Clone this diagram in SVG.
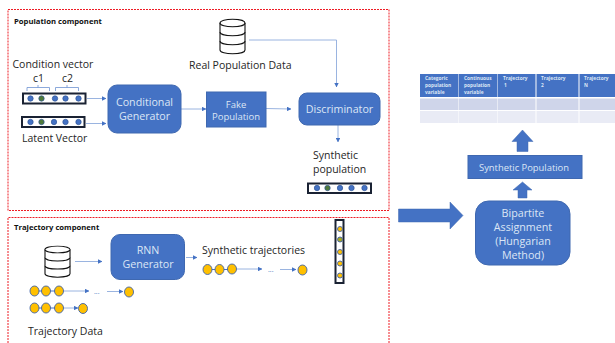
<svg xmlns="http://www.w3.org/2000/svg" width="615" height="343" viewBox="0 0 615 343">
<style>
text{font-family:"Open Sans","Liberation Sans",sans-serif;fill:#262626;font-size:10.5px}
.w{fill:#dce6f5;text-anchor:middle;font-size:10.700px}
.b{font-weight:700;font-size:7.700px;fill:#111}
.t{font-weight:700;font-size:4.800px;fill:#dce6f5}
.red{fill:none;stroke:#ee1c25;stroke-width:1;stroke-dasharray:2 1}
.box{fill:#4472c4;stroke:#3f68b0;stroke-width:1}
.vec{fill:#fff;stroke:#1a2233;stroke-width:2}
.bd{fill:#4472c4;stroke:#2f5597;stroke-width:.7}
.gd{fill:#4f7a3a;stroke:#2f5597;stroke-width:.7}
.yd{fill:#ffc000;stroke:#3f62a8;stroke-width:.9}
.con{fill:none;stroke:#8fabdc;stroke-width:.9}
.link{fill:none;stroke:#4472c4;stroke-width:1}
.brace{fill:none;stroke:#6f93d2;stroke-width:.8}
.db{fill:#fff;stroke:#111;stroke-width:1.1}
.bar{fill:#4472c4;stroke:#3f68b0;stroke-width:.5}
</style>
<defs>
<marker id="a" viewBox="0 0 6 6" refX="5.500" refY="3" markerWidth="4.500" markerHeight="4.500" orient="auto" markerUnits="userSpaceOnUse"><path d="M0 0L6 3L0 6Z" fill="#4472c4"/></marker>
<g id="dbi"><path class="db" d="M0 5C0 0 25 0 25 5V32C25 37 0 37 0 32Z"/><path class="db" d="M0 5C0 10 25 10 25 5M0 14C0 19 25 19 25 14M0 23C0 28 25 28 25 23"/></g>
</defs>
<g id="population-frame"><rect class="red" x="8" y="9.500" width="381" height="201"/><text class="b" x="14" y="23.500">Population component</text></g>
<g id="trajectory-frame"><path class="red" d="M8 346V217.500H389V346"/><text class="b" x="14" y="229.500">Trajectory component</text></g>
<g id="connectors">
<path class="con" marker-end="url(#a)" d="M87 98.500H106"/>
<path class="con" marker-end="url(#a)" d="M86 123.500H106"/>
<path class="con" marker-end="url(#a)" d="M181 109H206"/>
<path class="con" marker-end="url(#a)" d="M266 108.500L291 109"/>
<path class="con" marker-end="url(#a)" d="M249 40H336.500V87"/>
<path class="con" marker-end="url(#a)" d="M338 125V142"/>
<path class="con" marker-end="url(#a)" d="M75 261.500H102"/>
<path class="con" marker-end="url(#a)" d="M186 257.500H197"/>
<path class="con" marker-end="url(#a)" d="M63 291H89"/>
<path class="con" marker-end="url(#a)" d="M107 291.500H123"/>
<path class="con" marker-end="url(#a)" d="M63 308H78"/>
<path class="con" marker-end="url(#a)" d="M237 269H262"/>
<path class="con" marker-end="url(#a)" d="M280 269.500H296"/>
</g>
<g id="condition-vector">
<text x="12.500" y="68">Condition vector</text>
<text x="33" y="82">c1</text><text x="62" y="82">c2</text>
<path class="brace" d="M27 91V87.500H38V85M38 87.500H49.500V91M55.500 91V87.500H67V85M67 87.500H78.500V91"/>
<rect class="vec" x="23" y="93.500" width="62.500" height="10"/>
<circle class="bd" cx="30.500" cy="98.500" r="2.700"/><circle class="gd" cx="41.500" cy="98.500" r="2.700"/><circle class="bd" cx="55" cy="98.500" r="2.700"/><circle class="bd" cx="65.500" cy="98.500" r="2.700"/><circle class="bd" cx="78.500" cy="98.500" r="2.700"/>
</g>
<g id="latent-vector">
<rect class="vec" x="22" y="117" width="62.500" height="10"/>
<circle class="bd" cx="30.500" cy="122" r="2.700"/><circle class="gd" cx="41.500" cy="122" r="2.700"/><circle class="bd" cx="54" cy="122" r="2.700"/><circle class="bd" cx="65.500" cy="122" r="2.700"/><circle class="bd" cx="78.500" cy="122" r="2.700"/>
<text x="22" y="142">Latent Vector</text>
</g>
<g id="conditional-generator"><rect class="box" x="108" y="85" width="73" height="48" rx="9"/><text class="w" x="144.500" y="106">Conditional</text><text class="w" x="144.500" y="120">Generator</text></g>
<g id="fake-population"><rect class="box" x="206.500" y="92" width="59.500" height="35"/><text class="w" x="236" y="107.500" style="font-size:9.500px">Fake</text><text class="w" x="236" y="120" style="font-size:9.500px">Population</text></g>
<g id="real-population-data"><use href="#dbi" x="220" y="18"/><text x="189" y="69">Real Population Data</text></g>
<g id="discriminator"><rect class="box" x="299" y="93" width="81" height="32" rx="8"/><text class="w" x="339.500" y="113">Discriminator</text></g>
<g id="synthetic-population-vector">
<text x="313" y="159">Synthetic</text><text x="313" y="173">population</text>
<rect class="vec" x="308" y="183.500" width="63" height="9.500"/>
<circle class="bd" cx="317" cy="188" r="2.700"/><circle class="gd" cx="327.500" cy="188" r="2.700"/><circle class="bd" cx="340" cy="188" r="2.700"/><circle class="bd" cx="351.500" cy="188" r="2.700"/><circle class="bd" cx="364.500" cy="188" r="2.700"/>
</g>
<g id="trajectory-data">
<use href="#dbi" x="45" y="245" transform="translate(0 24.500) scale(1 .9)"/>
<path class="link" d="M38 291H55M38 308H55"/>
<ellipse class="yd" cx="34.500" cy="291" rx="4.500" ry="5"/><ellipse class="yd" cx="46" cy="291" rx="4.500" ry="5"/><ellipse class="yd" cx="59" cy="291" rx="4.500" ry="5"/>
<text x="94" y="294" style="font-size:7px;fill:#4472c4">...</text>
<ellipse class="yd" cx="129" cy="292" rx="4.500" ry="5"/>
<ellipse class="yd" cx="34.500" cy="308" rx="4.500" ry="5"/><ellipse class="yd" cx="46" cy="308" rx="4.500" ry="5"/><ellipse class="yd" cx="59" cy="308" rx="4.500" ry="5"/><ellipse class="yd" cx="83" cy="308.500" rx="4.500" ry="5"/>
<text x="28" y="335">Trajectory Data</text>
</g>
<g id="rnn-generator"><rect class="box" x="111" y="234.500" width="73.500" height="45" rx="9"/><text class="w" x="148" y="254">RNN</text><text class="w" x="148" y="268">Generator</text></g>
<g id="synthetic-trajectories">
<text x="202" y="254">Synthetic trajectories</text>
<path class="link" d="M210 269.500H230"/>
<ellipse class="yd" cx="207.500" cy="269.500" rx="4.500" ry="5"/><ellipse class="yd" cx="219.500" cy="269.500" rx="4.500" ry="5"/><ellipse class="yd" cx="232" cy="269" rx="4.500" ry="5"/>
<text x="268" y="272" style="font-size:7px;fill:#4472c4">...</text>
<ellipse class="yd" cx="302.500" cy="270" rx="4.500" ry="5"/>
</g>
<g id="trajectory-vector">
<rect class="vec" x="335.500" y="220" width="8" height="63"/>
<circle class="yd" cx="340" cy="229" r="2.500"/><circle class="yd" cx="340" cy="239.500" r="2.500" style="fill:#a8a820"/><circle class="yd" cx="340" cy="252" r="2.500"/><circle class="yd" cx="340" cy="263.500" r="2.500"/><circle class="yd" cx="340" cy="275.500" r="2.500"/>
</g>
<g id="big-arrow"><path class="bar" d="M398.500 209H450V202L463 215.500L450 229V222H398.500Z"/></g>
<g id="bipartite-assignment"><rect class="box" x="475.500" y="201" width="94.500" height="64" rx="13"/><text class="w" x="523" y="216.500">Bipartite</text><text class="w" x="523" y="230.500">Assignment</text><text class="w" x="523" y="245">(Hungarian</text><text class="w" x="523" y="259">Method)</text></g>
<g id="arrow-up-1"><path class="bar" d="M518 198V190H513L522.500 182L532 190H527V198Z"/></g>
<g id="synthetic-population"><rect class="box" x="468" y="155.500" width="114" height="23"/><text class="w" x="524" y="171" style="font-size:9.400px">Synthetic Population</text></g>
<g id="arrow-up-2"><path class="bar" d="M517 151.500V141.500H512L522.500 130L533 141.500H528V151.500Z"/></g>
<g id="output-table">
<g fill="#4472c4"><rect x="420" y="74" width="38.500" height="23"/><rect x="459" y="74" width="38.500" height="23"/><rect x="498" y="74" width="37.500" height="23"/><rect x="536.500" y="74" width="42" height="23"/><rect x="579.500" y="74" width="36" height="23"/></g>
<g fill="#cfd5ea"><rect x="420" y="98.500" width="38.500" height="11.500"/><rect x="459" y="98.500" width="38.500" height="11.500"/><rect x="498" y="98.500" width="37.500" height="11.500"/><rect x="536.500" y="98.500" width="42" height="11.500"/><rect x="579.500" y="98.500" width="36" height="11.500"/></g>
<g fill="#e9ebf5"><rect x="420" y="111" width="38.500" height="12"/><rect x="459" y="111" width="38.500" height="12"/><rect x="498" y="111" width="37.500" height="12"/><rect x="536.500" y="111" width="42" height="12"/><rect x="579.500" y="111" width="36" height="12"/></g>
<text class="t" x="425" y="80">Categoric</text><text class="t" x="425" y="87">population</text><text class="t" x="425" y="94">variable</text>
<text class="t" x="464" y="80">Continuous</text><text class="t" x="464" y="87">population</text><text class="t" x="464" y="94">variable</text>
<text class="t" x="503" y="80">Trajectory</text><text class="t" x="504" y="87">1</text>
<text class="t" x="541" y="80">Trajectory</text><text class="t" x="541" y="87">2</text>
<text class="t" x="584" y="80">Trajectory</text><text class="t" x="584" y="87">N</text>
</g>
</svg>
